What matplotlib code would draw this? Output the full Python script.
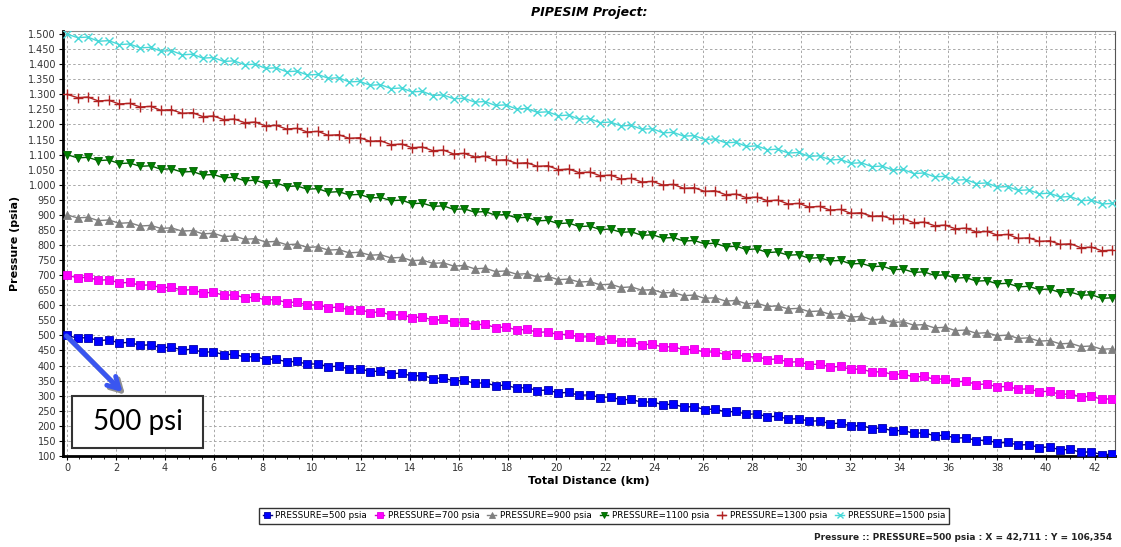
import matplotlib
matplotlib.use('Agg')
import matplotlib.pyplot as plt
import matplotlib.patches as patches
from matplotlib.ticker import MultipleLocator, FuncFormatter

plt.rcParams['font.family'] = ['DejaVu Sans']

# ==========================================
# data
# ==========================================
distance_km = [
    0.00, 0.43, 0.85, 1.28, 1.71, 2.14, 2.56, 2.99, 3.42, 3.84,
    4.27, 4.70, 5.13, 5.55, 5.98, 6.41, 6.83, 7.26, 7.69, 8.12,
    8.54, 8.97, 9.40, 9.82, 10.25, 10.68, 11.10, 11.53, 11.96, 12.39,
    12.81, 13.24, 13.67, 14.09, 14.52, 14.95, 15.38, 15.80, 16.23, 16.66,
    17.08, 17.51, 17.94, 18.37, 18.79, 19.22, 19.65, 20.07, 20.50, 20.93,
    21.36, 21.78, 22.21, 22.64, 23.06, 23.49, 23.92, 24.35, 24.77, 25.20,
    25.63, 26.05, 26.48, 26.91, 27.34, 27.76, 28.19, 28.62, 29.04, 29.47,
    29.90, 30.32, 30.75, 31.18, 31.61, 32.03, 32.46, 32.89, 33.31, 33.74,
    34.17, 34.60, 35.02, 35.45, 35.88, 36.30, 36.73, 37.16, 37.59, 38.01,
    38.44, 38.87, 39.29, 39.72, 40.15, 40.58, 41.00, 41.43, 41.86, 42.28,
    42.71,
]

p500 = [
    500, 491, 493, 483, 485, 475, 477, 467, 469, 459, 461, 452, 454, 444, 446,
    436, 438, 428, 430, 420, 422, 412, 414, 404, 406, 396, 398, 388, 390, 380,
    382, 373, 375, 365, 367, 357, 359, 349, 351, 341, 343, 333, 335, 325, 327,
    317, 319, 309, 311, 301, 303, 294, 296, 286, 288, 278, 280, 270, 272, 262,
    264, 254, 256, 246, 248, 238, 240, 230, 232, 222, 224, 215, 217, 207, 209,
    199, 201, 191, 193, 183, 185, 175, 177, 167, 169, 159, 161, 151, 153, 143,
    145, 136, 138, 128, 130, 120, 122, 112, 114, 104, 106,
]
p700 = [
    700, 691, 693, 683, 685, 674, 676, 666, 668, 658, 660, 650, 652, 641, 643,
    633, 635, 625, 627, 617, 619, 609, 611, 600, 602, 592, 594, 584, 586, 576,
    578, 567, 569, 559, 561, 551, 553, 543, 545, 535, 537, 526, 528, 518, 520,
    510, 512, 502, 504, 494, 496, 485, 487, 477, 479, 469, 471, 461, 463, 452,
    454, 444, 446, 436, 438, 428, 430, 420, 422, 411, 413, 403, 405, 395, 397,
    387, 389, 378, 380, 370, 372, 362, 364, 354, 356, 346, 348, 337, 339, 329,
    331, 321, 323, 313, 315, 304, 306, 296, 298, 288, 290,
]
p900 = [
    900, 890, 892, 881, 883, 872, 874, 863, 865, 855, 857, 846, 848, 837, 839,
    828, 830, 819, 821, 810, 812, 801, 803, 792, 794, 783, 785, 774, 776, 766,
    768, 757, 759, 748, 750, 739, 741, 730, 732, 721, 723, 712, 714, 703, 705,
    694, 696, 685, 687, 677, 679, 668, 670, 659, 661, 650, 652, 641, 643, 632,
    634, 623, 625, 614, 616, 605, 607, 596, 598, 588, 590, 579, 581, 570, 572,
    561, 563, 552, 554, 543, 545, 534, 536, 525, 527, 516, 518, 507, 509, 499,
    501, 490, 492, 481, 483, 472, 474, 463, 465, 454, 456,
]
p1100 = [
    1100, 1089, 1091, 1080, 1082, 1070, 1072, 1061, 1063, 1051, 1053, 1042, 1044, 1032, 1034,
    1023, 1025, 1013, 1015, 1004, 1006, 994, 996, 985, 987, 975, 977, 966, 968, 956,
    958, 947, 949, 937, 939, 928, 930, 918, 920, 909, 911, 899, 901, 890, 892,
    880, 882, 871, 873, 861, 863, 851, 853, 842, 844, 832, 834, 823, 825, 813,
    815, 804, 806, 794, 796, 785, 787, 775, 777, 766, 768, 756, 758, 747, 749,
    737, 739, 728, 730, 718, 720, 709, 711, 699, 701, 690, 692, 680, 682, 671,
    673, 661, 663, 652, 654, 642, 644, 633, 635, 623, 625,
]
p1300 = [
    1300, 1289, 1291, 1278, 1280, 1268, 1270, 1258, 1260, 1247, 1249, 1237, 1239, 1226, 1228,
    1216, 1218, 1206, 1208, 1195, 1197, 1185, 1187, 1175, 1177, 1164, 1166, 1154, 1156, 1144,
    1146, 1133, 1135, 1123, 1125, 1113, 1115, 1102, 1104, 1092, 1094, 1081, 1083, 1071, 1073,
    1061, 1063, 1050, 1052, 1040, 1042, 1030, 1032, 1019, 1021, 1009, 1011, 999, 1001, 988,
    990, 978, 980, 967, 969, 957, 959, 947, 949, 936, 938, 926, 928, 916, 918,
    905, 907, 895, 897, 885, 887, 874, 876, 864, 866, 854, 856, 843, 845, 833,
    835, 822, 824, 812, 814, 802, 804, 791, 793, 781, 783,
]
p1500 = [
    1500, 1488, 1490, 1476, 1478, 1465, 1467, 1454, 1456, 1443, 1445, 1431, 1433, 1420, 1422,
    1409, 1411, 1398, 1400, 1386, 1388, 1375, 1377, 1364, 1366, 1353, 1355, 1341, 1343, 1330,
    1332, 1319, 1321, 1308, 1310, 1296, 1298, 1285, 1287, 1274, 1276, 1263, 1265, 1251, 1253,
    1240, 1242, 1229, 1231, 1217, 1219, 1206, 1208, 1195, 1197, 1184, 1186, 1172, 1174, 1161,
    1163, 1150, 1152, 1139, 1141, 1127, 1129, 1116, 1118, 1105, 1107, 1094, 1096, 1082, 1084,
    1071, 1073, 1060, 1062, 1049, 1051, 1037, 1039, 1026, 1028, 1015, 1017, 1004, 1006, 992,
    994, 981, 983, 970, 972, 959, 961, 947, 949, 936, 938,
]

series_names = ['PRESSURE=500 psia', 'PRESSURE=700 psia', 'PRESSURE=900 psia',
                'PRESSURE=1100 psia', 'PRESSURE=1300 psia', 'PRESSURE=1500 psia']
series_values = [p500, p700, p900, p1100, p1300, p1500]

# style per series: (marker, face, edge, line colour, marker size)
styles = [
    ('s', '#0000ff', '#0000aa', '#000080', 5.3),
    ('s', '#ff00ff', '#e000e0', '#cc00cc', 5.3),
    ('^', '#808080', '#808080', '#808080', 5.3),
    ('v', '#008000', '#006000', '#006000', 5.3),
    ('+', '#b22222', '#b22222', '#b22222', 7),
    ('x', '#48d8d8', '#48d8d8', '#48d8d8', 6),
]

# ==========================================
# figure
# ==========================================
fig = plt.figure(figsize=(11.21, 5.47), dpi=100)
ax = fig.add_axes([0.0562, 0.1664, 0.9384, 0.7769])

for name, vals, st in zip(series_names, series_values, styles):
    mk, fc, ec, lc, ms = st
    ax.plot(distance_km, vals, color=lc, lw=1.0, marker=mk, markersize=ms,
            markerfacecolor=fc, markeredgecolor=ec, markeredgewidth=1.0 if mk in '+x' else 0.6,
            label=name, zorder=3)

ax.set_xlim(-0.163, 42.82)
ax.set_ylim(100, 1510)
ax.xaxis.set_major_locator(MultipleLocator(2))
ax.xaxis.set_minor_locator(MultipleLocator(0.5))
ax.yaxis.set_major_locator(MultipleLocator(50))
ax.yaxis.set_major_formatter(FuncFormatter(lambda v, p: f"{int(v):,}".replace(',', '.')))

ax.grid(True, which='major', color='#a8a8a8', linestyle=(0, (2.5, 2.5)), lw=0.7)
ax.tick_params(axis='both', which='major', labelsize=7, colors='black', length=3, width=0.8, pad=2)
ax.tick_params(axis='x', which='minor', length=2, width=0.6)
for t in ax.get_xticklabels() + ax.get_yticklabels():
    t.set_color('#333333')

ax.spines['left'].set_linewidth(2)
ax.spines['bottom'].set_linewidth(2)
ax.spines['top'].set_color('#888888')
ax.spines['right'].set_color('#555555')

ax.set_title('PIPESIM Project:', fontsize=9, fontweight='bold', fontstyle='italic', pad=11)
ax.set_xlabel('Total Distance (km)', fontsize=8, fontweight='bold', labelpad=2)
ax.set_ylabel('Pressure (psia)', fontsize=8, fontweight='bold', labelpad=6)

# legend below
leg = fig.legend(loc='center', bbox_to_anchor=(604 / 1121, 1 - 516 / 547), ncol=6,
                 fontsize=6.4, frameon=True, fancybox=False, edgecolor='black',
                 handlelength=1.0, handletextpad=0.4, columnspacing=0.9,
                 borderpad=0.4, markerscale=0.8)
leg.get_frame().set_linewidth(1.0)

fig.text(1112 / 1121, 1 - 538 / 547, 'Pressure :: PRESSURE=500 psia : X = 42,711 : Y = 106,354',
         ha='right', va='center', fontsize=6.5, fontweight='bold', color='#222222')

# annotation box "500 psi"
ax.add_patch(patches.Rectangle((0.2, 127), 5.36, 172, facecolor='white',
                               edgecolor='#333333', lw=1.5, zorder=5))
ax.text(2.88, 213, '500 psi', fontsize=20, family=['Lato', 'DejaVu Sans'],
        ha='center', va='center', zorder=6)
# arrow with shadow
ax.annotate('', xy=(2.45, 297), xytext=(0.0, 497),
            arrowprops=dict(arrowstyle='->,head_length=0.8,head_width=0.45',
                            color='#909090', lw=3.5), zorder=4)
ax.annotate('', xy=(2.35, 305), xytext=(-0.1, 505),
            arrowprops=dict(arrowstyle='->,head_length=0.8,head_width=0.45',
                            color='#3a56f0', lw=3.5), zorder=4)

fig.savefig('out.png', dpi=100, facecolor='white')
